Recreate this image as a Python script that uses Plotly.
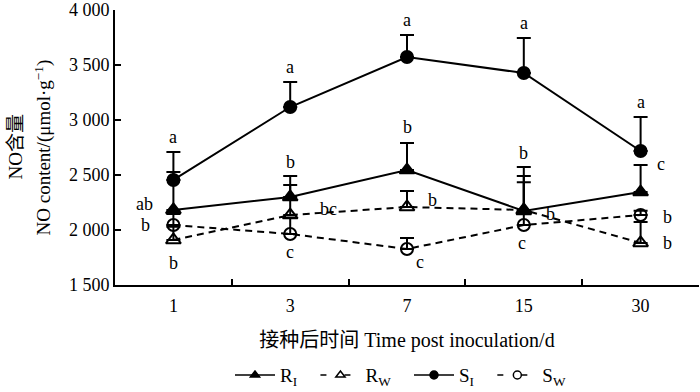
import plotly.graph_objects as go

days = ["1", "3", "7", "15", "30"]

RI = [2182, 2300, 2545, 2173, 2345]
RI_err = [345, 191, 246, 400, 246]
RW = [1909, 2136, 2209, 2182, 1882]
RW_err = [120, 273, 146, 310, 190]
SI = [2455, 3118, 3573, 3427, 2718]
SI_err = [255, 227, 200, 318, 309]
SW = [2045, 1964, 1827, 2045, 2136]
SW_err = [100, 150, 100, 390, 40]

RI_letters = ["ab", "b", "b", "b", "c"]
RW_letters = ["b", "bc", "b", "b", "b"]
SI_letters = ["a", "a", "a", "a", "a"]
SW_letters = ["b", "c", "c", "c", "b"]

y_tickvals = [1500, 2000, 2500, 3000, 3500, 4000]
y_ticktext = ["1 500", "2 000", "2 500", "3 000", "3 500", "4 000"]

FONT = "Liberation Serif, Times New Roman, Noto Sans CJK SC, serif"

fig = go.Figure()

series = [
    ("R<sub>I</sub>", RI, RI_err, "triangle-up", "solid"),
    ("R<sub>W</sub>", RW, RW_err, "triangle-up-open", "dash"),
    ("S<sub>I</sub>", SI, SI_err, "circle", "solid"),
    ("S<sub>W</sub>", SW, SW_err, "circle-open", "dash"),
]
for name, vals, errs, sym, dash in series:
    dash_style = "7px,5px" if dash == "dash" else "solid"
    fig.add_trace(go.Scatter(
        x=days, y=vals, name=name, mode="lines+markers", showlegend=False,
        line=dict(color="black", width=2, dash=dash_style),
        marker=dict(symbol=sym, size=12 if "circle" in sym else 13, color="black",
                    line=dict(color="black", width=2)),
        error_y=dict(type="data", symmetric=False, array=errs,
                     arrayminus=[0] * len(errs), color="black", thickness=2, width=7),
    ))
    # legend-only entry with smaller marker
    fig.add_trace(go.Scatter(
        x=[None], y=[None], name=name + "\u2002\u2009", mode="lines+markers",
        line=dict(color="black", width=1.5, dash="6px,18px" if dash == "dash" else "solid"),
        marker=dict(symbol=sym, size=8, color="black", line=dict(color="black", width=1.5)),
    ))

# label placement (style): reference point ('p' value, 'e' error top), dx, dy in px
label_style = {
    "SI": [("e", 0, 15)] * 5,
    "RI": [("p", -29, 6), ("e", 0, 14), ("e", 0, 16), ("e", 0, 14), ("e", 20, 1)],
    "RW": [("p", 0, -23), ("p", 38, 6), ("p", 25, 7), ("p", 27, -4), ("p", 27, 0)],
    "SW": [("p", -28, 0), ("p", 0, -18), ("p", 13, -13), ("p", -2, -18), ("p", 27, -2)],
}
groups = {
    "SI": (SI, SI_err, SI_letters),
    "RI": (RI, RI_err, RI_letters),
    "RW": (RW, RW_err, RW_letters),
    "SW": (SW, SW_err, SW_letters),
}
for key, (vals, errs, letters) in groups.items():
    for i, (ref, dx, dy) in enumerate(label_style[key]):
        yv = vals[i] + (errs[i] if ref == "e" else 0)
        fig.add_annotation(x=i, y=yv, xref="x", yref="y", text=letters[i], showarrow=False,
                           xshift=dx, yshift=dy, xanchor="center", yanchor="middle",
                           font=dict(family=FONT, size=18, color="black"))

# y-axis title, two lines
fig.add_annotation(x=0, y=0.5, xref="paper", yref="paper", xshift=-100, text="NO含量",
                   textangle=-90, showarrow=False, xanchor="center", yanchor="middle",
                   font=dict(family=FONT, size=19, color="black"))
fig.add_annotation(x=0, y=0.5, xref="paper", yref="paper", xshift=-72,
                   text="NO content/(μmol·g<sup>−1</sup>)",
                   textangle=-90, showarrow=False, xanchor="center", yanchor="middle",
                   font=dict(family=FONT, size=19, color="black"))

fig.update_layout(
    width=700, height=392,
    margin=dict(l=115, r=1, t=10, b=107),
    paper_bgcolor="white", plot_bgcolor="white",
    font=dict(family=FONT, size=18, color="black"),
    showlegend=True,
    legend=dict(orientation="h", x=0.5, xanchor="center", xref="paper",
                y=0.043, yref="container", yanchor="middle",
                font=dict(family=FONT, size=19), itemwidth=40, tracegroupgap=0),
    xaxis=dict(type="category", tickson="boundaries", ticks="inside", ticklen=6,
               tickwidth=1.5, tickcolor="black", showline=True, linecolor="black",
               linewidth=2, showgrid=False, zeroline=False, range=[-0.5, 4.5],
               automargin=False, ticklabelstandoff=3,
               tickfont=dict(family=FONT, size=18),
               title=dict(text="接种后时间 Time post inoculation/d", standoff=18,
                          font=dict(family=FONT, size=20))),
    yaxis=dict(range=[1500, 4000], tickvals=y_tickvals, ticktext=y_ticktext,
               ticks="inside", ticklen=6, tickwidth=1.5, tickcolor="black",
               showline=True, linecolor="black", linewidth=2, showgrid=False,
               zeroline=False, automargin=False, tickfont=dict(family=FONT, size=18)),
)

fig.write_html("out.html", config={"displayModeBar": False},
               post_script="document.body.style.margin='0';document.body.style.padding='0';")
